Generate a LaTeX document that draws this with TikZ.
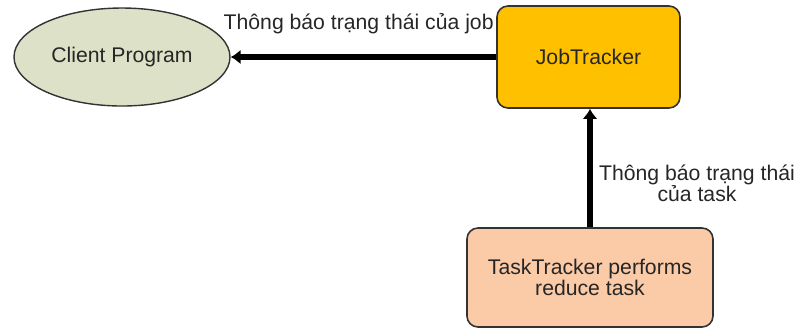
\documentclass[tikz,border=0pt]{standalone}
\usepackage{fontspec}
\setmainfont{Liberation Sans}
\usetikzlibrary{shapes.geometric,arrows.meta}
\definecolor{clientfill}{HTML}{DDE1C8}
\definecolor{jobfill}{HTML}{FFC000}
\definecolor{taskfill}{HTML}{FBCAA7}
\definecolor{edgegray}{HTML}{333333}
\tikzset{
  every node/.style={font=\fontsize{10.6}{10.5}\selectfont, text=black!85},
  client/.style={ellipse, draw=edgegray, line width=0.7pt, fill=clientfill,
    minimum width=108pt, minimum height=49pt, inner sep=0pt},
  tracker/.style={rectangle, rounded corners=5.5pt, draw=edgegray, line width=0.8pt,
    inner sep=0pt, align=center},
  flow/.style={line width=3pt, -{Latex[length=5pt,width=7.5pt]}},
  note/.style={inner sep=0pt, align=center}
}
\begin{document}
\begin{tikzpicture}[x=0.5pt, y=-0.5pt]
  \useasboundingbox (0,0) rectangle (797,329);

  % nodes
  \node[client] (cp) at (122,57) {Client Program};
  \node[tracker, fill=jobfill, minimum width=91.5pt, minimum height=51pt]
    (jt) at (588.5,57) {JobTracker};
  \node[tracker, fill=taskfill, minimum width=123pt, minimum height=49.5pt]
    (tt) at (590,277.5) {TaskTracker performs\\reduce task};

  % status reports
  \draw[flow] (jt.west) -- (cp.east);
  \draw[flow] (tt.north) -- (tt.north |- jt.south);

  % labels
  \node[note, anchor=base east] (lj) at (494,29) {Thông báo trạng thái của job};
  \node[note] (lt) at (697,183) {Thông báo trạng thái\\của task};
\end{tikzpicture}
\end{document}
